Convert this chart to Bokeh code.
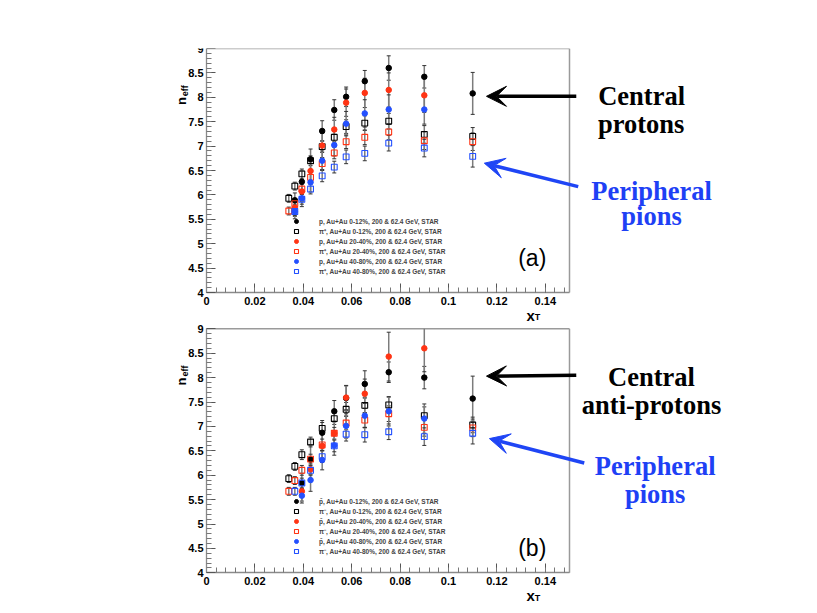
import numpy as np
from bokeh.plotting import figure
from bokeh.models import (Range1d, FixedTicker, CustomJSTickFormatter, Label, Arrow,
                          VeeHead, Legend, LegendItem, LinearAxis)
from bokeh.embed import file_html
from bokeh.resources import INLINE

# ---------------- axis definition ----------------
X_TICKS = [0, 0.02, 0.04, 0.06, 0.08, 0.1, 0.12, 0.14]
Y_TICKS = [4, 4.5, 5, 5.5, 6, 6.5, 7, 7.5, 8, 8.5, 9]
X_MIN, X_MAX = 0.0, 0.15
Y_MIN, Y_MAX = 4.0, 9.0

# ---------------- panel (a): protons and pi+ ----------------
a_pc_x = [0.0365, 0.0394, 0.043, 0.0478, 0.0528, 0.0577, 0.0654, 0.0753, 0.090, 0.110]
a_pc_y = [5.89, 6.27, 6.73, 7.31, 7.74, 8.01, 8.33, 8.60, 8.42, 8.08]
a_pc_e = [0.15, 0.22, 0.21, 0.21, 0.21, 0.20, 0.22, 0.25, 0.23, 0.43]

a_pm_x = [0.0365, 0.0394, 0.043, 0.0478, 0.0528, 0.0577, 0.0654, 0.0753, 0.090]
a_pm_y = [5.74, 6.07, 6.49, 7.01, 7.34, 7.89, 8.09, 8.15, 8.04]
a_pm_e = [0.18, 0.20, 0.22, 0.25, 0.25, 0.28, 0.30, 0.35, 0.35]

a_pp_x = [0.0365, 0.0394, 0.043, 0.0478, 0.0528, 0.0577, 0.0654, 0.0753, 0.090]
a_pp_y = [5.66, 5.93, 6.26, 6.70, 7.02, 7.46, 7.67, 7.75, 7.75]
a_pp_e = [0.15, 0.17, 0.20, 0.20, 0.22, 0.25, 0.28, 0.30, 0.30]

a_ic_x = [0.034, 0.0365, 0.0394, 0.043, 0.0478, 0.0528, 0.0577, 0.0654, 0.0753, 0.090, 0.110]
a_ic_y = [5.93, 6.18, 6.43, 6.70, 6.99, 7.18, 7.40, 7.47, 7.51, 7.24, 7.20]
a_ic_e = [0.08, 0.08, 0.10, 0.10, 0.12, 0.12, 0.14, 0.15, 0.16, 0.18, 0.18]

a_im_x = [0.034, 0.0365, 0.0394, 0.043, 0.0478, 0.0528, 0.0577, 0.0654, 0.0753, 0.090, 0.110]
a_im_y = [5.67, 5.82, 6.12, 6.36, 6.64, 6.86, 7.09, 7.18, 7.29, 7.11, 7.09]
a_im_e = [0.08, 0.08, 0.10, 0.10, 0.12, 0.12, 0.14, 0.15, 0.16, 0.18, 0.18]

a_ip_x = [0.0365, 0.0394, 0.043, 0.0478, 0.0528, 0.0577, 0.0654, 0.0753, 0.090, 0.110]
a_ip_y = [5.66, 5.91, 6.12, 6.39, 6.57, 6.78, 6.85, 7.06, 6.96, 6.79]
a_ip_e = [0.08, 0.10, 0.10, 0.12, 0.12, 0.14, 0.15, 0.16, 0.18, 0.22]

a_labels = [
    "p, Au+Au 0-12%, 200 & 62.4 GeV, STAR",
    "\u03c0\u207a, Au+Au 0-12%, 200 & 62.4 GeV, STAR",
    "p, Au+Au 20-40%, 200 & 62.4 GeV, STAR",
    "\u03c0\u207a, Au+Au 20-40%, 200 & 62.4 GeV, STAR",
    "p, Au+Au 40-80%, 200 & 62.4 GeV, STAR",
    "\u03c0\u207a, Au+Au 40-80%, 200 & 62.4 GeV, STAR",
]

# ---------------- panel (b): anti-protons and pi- ----------------
b_pc_x = [0.0394, 0.043, 0.0478, 0.0528, 0.0577, 0.0654, 0.0753, 0.090, 0.110]
b_pc_y = [5.84, 6.32, 6.87, 7.31, 7.58, 7.87, 8.11, 8.00, 7.57]
b_pc_e = [0.20, 0.30, 0.25, 0.22, 0.25, 0.27, 0.21, 0.23, 0.46]

b_pm_x = [0.0394, 0.043, 0.0478, 0.0528, 0.0577, 0.0654, 0.0753, 0.090]
b_pm_y = [5.67, 6.12, 6.60, 6.86, 7.59, 7.67, 8.43, 8.60]
b_pm_e = [0.20, 0.22, 0.25, 0.25, 0.25, 0.30, 0.50, 0.48]

b_pp_x = [0.0394, 0.043, 0.0478, 0.0528, 0.0577, 0.0654, 0.0753, 0.090]
b_pp_y = [5.58, 5.90, 6.31, 6.61, 7.01, 7.22, 7.31, 7.16]
b_pp_e = [0.15, 0.23, 0.20, 0.20, 0.25, 0.25, 0.30, 0.30]

b_ic_x = [0.034, 0.0365, 0.0394, 0.043, 0.0478, 0.0528, 0.0577, 0.0654, 0.0753, 0.090, 0.110]
b_ic_y = [5.93, 6.18, 6.42, 6.68, 6.96, 7.16, 7.35, 7.43, 7.44, 7.22, 7.03]
b_ic_e = [0.08, 0.08, 0.10, 0.10, 0.12, 0.12, 0.14, 0.15, 0.16, 0.18, 0.16]

b_im_x = [0.034, 0.0365, 0.0394, 0.043, 0.0478, 0.0528, 0.0577, 0.0654, 0.0753, 0.090, 0.110]
b_im_y = [5.67, 5.89, 6.10, 6.33, 6.62, 6.86, 7.07, 7.13, 7.26, 6.98, 6.97]
b_im_e = [0.08, 0.08, 0.10, 0.10, 0.12, 0.12, 0.14, 0.15, 0.16, 0.18, 0.18]

b_ip_x = [0.0365, 0.0394, 0.043, 0.0478, 0.0528, 0.0577, 0.0654, 0.0753, 0.090, 0.110]
b_ip_y = [5.67, 5.84, 6.10, 6.38, 6.60, 6.84, 6.83, 6.89, 6.79, 6.86]
b_ip_e = [0.08, 0.10, 0.10, 0.12, 0.12, 0.14, 0.15, 0.16, 0.18, 0.22]

b_labels = [
    "p\u0304, Au+Au 0-12%, 200 & 62.4 GeV, STAR",
    "\u03c0\u207b, Au+Au 0-12%, 200 & 62.4 GeV, STAR",
    "p\u0304, Au+Au 20-40%, 200 & 62.4 GeV, STAR",
    "\u03c0\u207b, Au+Au 20-40%, 200 & 62.4 GeV, STAR",
    "p\u0304, Au+Au 40-80%, 200 & 62.4 GeV, STAR",
    "\u03c0\u207b, Au+Au 40-80%, 200 & 62.4 GeV, STAR",
]

# ---------------- styling / layout ----------------
BLACK, RED, BLUE = "#000000", "#ff3414", "#2350ff"
TEXT_BLUE = "#1e40f5"
ARROW_BLUE = "#1f45f5"
SANS = "Liberation Sans"
SERIF = "Liberation Serif"

W, H = 801, 606
BL, BR, BT, BB = 20, 0, 48, 5
FW, FH = W - BL - BR, H - BT - BB
PX_X = 363.0 / 0.15          # pixels per unit of x_T
PX_Y = 48.8                  # pixels per unit of n_eff
ORIGIN_X = 186               # pixels from frame left to x_T = 0
PANEL_SHIFT = 280.3 / PX_Y   # vertical offset of panel (b) in units

XS = -ORIGIN_X / PX_X
XE = XS + FW / PX_X
YA_E = Y_MAX
YA_S = YA_E - FH / PX_Y
YB_E = Y_MAX + PANEL_SHIFT
YB_S = YB_E - FH / PX_Y

p = figure(width=W, height=H, frame_width=FW, frame_height=FH,
           min_border_left=BL, min_border_right=BR, min_border_top=BT, min_border_bottom=BB,
           x_range=Range1d(XS, XE), y_range=Range1d(YA_S, YA_E),
           output_backend="svg", toolbar_location=None)
p.extra_y_ranges = {"b": Range1d(YB_S, YB_E)}
p.outline_line_color = None
p.xgrid.visible = False
p.ygrid.visible = False
p.background_fill_color = "white"
p.border_fill_color = "white"

fmt = CustomJSTickFormatter(code="return String(Math.round(tick*1000)/1000);")
XMINOR = [i * 0.004 for i in range(1, 38)]
YMINOR = [4 + i * 0.1 for i in range(1, 50)]

xa, ya = p.xaxis[0], p.yaxis[0]
xb = LinearAxis(y_range_name="b")
yb = LinearAxis(y_range_name="b")
p.add_layout(xb, "below")
p.add_layout(yb, "left")

for ax in (xa, xb):
    ax.ticker = FixedTicker(ticks=X_TICKS, minor_ticks=XMINOR)
    ax.bounds = (X_MIN, X_MAX)
    ax.fixed_location = Y_MIN
    ax.major_label_standoff = 4
for ax in (ya, yb):
    ax.ticker = FixedTicker(ticks=Y_TICKS, minor_ticks=YMINOR)
    ax.bounds = (Y_MIN, Y_MAX)
    ax.fixed_location = X_MIN
    ax.major_label_standoff = 3
for ax in (xa, xb, ya, yb):
    ax.formatter = fmt
    ax.major_tick_in = 9
    ax.major_tick_out = 0
    ax.minor_tick_in = 5
    ax.minor_tick_out = 0
    ax.axis_line_color = "#8a8a8a"
    ax.axis_line_width = 1.3
    ax.major_tick_line_color = "#555555"
    ax.minor_tick_line_color = "#777777"
    ax.major_label_text_font = SANS
    ax.major_label_text_font_style = "bold"
    ax.major_label_text_font_size = "11px"
    ax.major_label_text_color = "black"


def draw_panel(rng, series, labels, tag, tag_y, legend_y, arrows, texts):
    kw = {} if rng is None else {"y_range_name": rng}
    # frame (top and right)
    p.line([X_MIN, X_MAX], [Y_MAX, Y_MAX], line_color="#9a9a9a", line_width=1.5, **kw)
    p.line([X_MAX, X_MAX], [Y_MIN, Y_MAX], line_color="#9a9a9a", line_width=1.5, **kw)

    # error bars (clipped to the panel frame like the original)
    for x, y, e, m, c in series:
        x = np.asarray(x); y = np.asarray(y); e = np.asarray(e)
        hi = y + e
        p.segment(x, y - e, x, np.minimum(hi, Y_MAX), line_color="#7c7c7c", line_width=1.5, **kw)
        ok = hi <= Y_MAX
        p.scatter(np.concatenate([x, x[ok]]), np.concatenate([y - e, hi[ok]]),
                  marker="dash", size=4, line_color="#333333", line_width=1, **kw)
    # markers
    items = []
    for (x, y, e, m, c), lab in zip(series, labels):
        if m == "circle":
            r = p.scatter(x, y, marker="circle", size=5.5, fill_color=c, line_color=c, **kw)
        else:
            r = p.scatter(x, y, marker="square", size=5.8, fill_color=None,
                          line_color=c, line_width=1.1, **kw)
        items.append(LegendItem(label=lab, renderers=[r]))

    leg = Legend(items=items, location=(268, legend_y), padding=0, margin=0, spacing=0,
                 glyph_width=16, glyph_height=10, label_height=10, label_standoff=15,
                 label_text_font=SANS, label_text_font_style="bold",
                 label_text_font_size="6.5px", border_line_color=None,
                 background_fill_alpha=0)
    p.add_layout(leg)

    # axis titles (ROOT style)
    lab_kw = dict(text_font=SANS, text_font_style="bold", text_align="left",
                  text_baseline="alphabetic", text_color="black", **kw)
    p.add_layout(Label(x=-0.0103, y=7.84, text="n", angle=np.pi / 2,
                       text_font_size="13px", **lab_kw))
    p.add_layout(Label(x=-0.0089, y=8.02, text="eff", angle=np.pi / 2,
                       text_font_size="9px", **lab_kw))
    p.add_layout(Label(x=0.1322, y=3.535, text="x", text_font_size="15px", **lab_kw))
    p.add_layout(Label(x=0.1356, y=3.49, text="T", text_font_size="9px", **lab_kw))
    # panel tag
    p.add_layout(Label(x=0.1346, y=tag_y, text=tag, text_font=SANS,
                       text_font_size="23px", text_align="center",
                       text_baseline="alphabetic", text_color="black", **kw))

    for (x0, y0, x1, y1, c) in arrows:
        p.add_layout(Arrow(x_start=x0, y_start=y0, x_end=x1, y_end=y1,
                           line_color=c, line_width=3.5,
                           end=VeeHead(size=20, fill_color=c, line_color=c), **kw))
    for (x, y, t, c) in texts:
        p.add_layout(Label(x=x, y=y, text=t, text_font=SERIF, text_font_style="bold",
                           text_font_size="26.5px", text_color=c, text_align="center",
                           text_baseline="alphabetic", **kw))


series_a = [
    (a_pc_x, a_pc_y, a_pc_e, "circle", BLACK),
    (a_ic_x, a_ic_y, a_ic_e, "square", BLACK),
    (a_pm_x, a_pm_y, a_pm_e, "circle", RED),
    (a_im_x, a_im_y, a_im_e, "square", RED),
    (a_pp_x, a_pp_y, a_pp_e, "circle", BLUE),
    (a_ip_x, a_ip_y, a_ip_e, "square", BLUE),
]
series_b = [
    (b_pc_x, b_pc_y, b_pc_e, "circle", BLACK),
    (b_ic_x, b_ic_y, b_ic_e, "square", BLACK),
    (b_pm_x, b_pm_y, b_pm_e, "circle", RED),
    (b_im_x, b_im_y, b_im_e, "square", RED),
    (b_pp_x, b_pp_y, b_pp_e, "circle", BLUE),
    (b_ip_x, b_ip_y, b_ip_e, "square", BLUE),
]

arrows_a = [(0.1528, 8.02, 0.1157, 8.02, BLACK), (0.1536, 6.17, 0.1148, 6.65, ARROW_BLUE)]
texts_a = [(0.1798, 8.02, "Central", BLACK), (0.1796, 7.45, "protons", BLACK),
           (0.1839, 6.08, "Peripheral", TEXT_BLUE), (0.1839, 5.57, "pions", TEXT_BLUE)]
arrows_b = [(0.1528, 8.05, 0.1157, 8.03, BLACK), (0.1561, 6.25, 0.1169, 6.75, ARROW_BLUE)]
texts_b = [(0.1839, 8.02, "Central", BLACK), (0.1839, 7.43, "anti-protons", BLACK),
           (0.1854, 6.18, "Peripheral", TEXT_BLUE), (0.1854, 5.625, "pions", TEXT_BLUE)]

draw_panel(None, series_a, a_labels, "(a)", 4.70, 325, arrows_a, texts_a)
draw_panel("b", series_b, b_labels, "(b)", 4.50, 45, arrows_b, texts_b)

open("out.html", "w").write(file_html(p, INLINE))
